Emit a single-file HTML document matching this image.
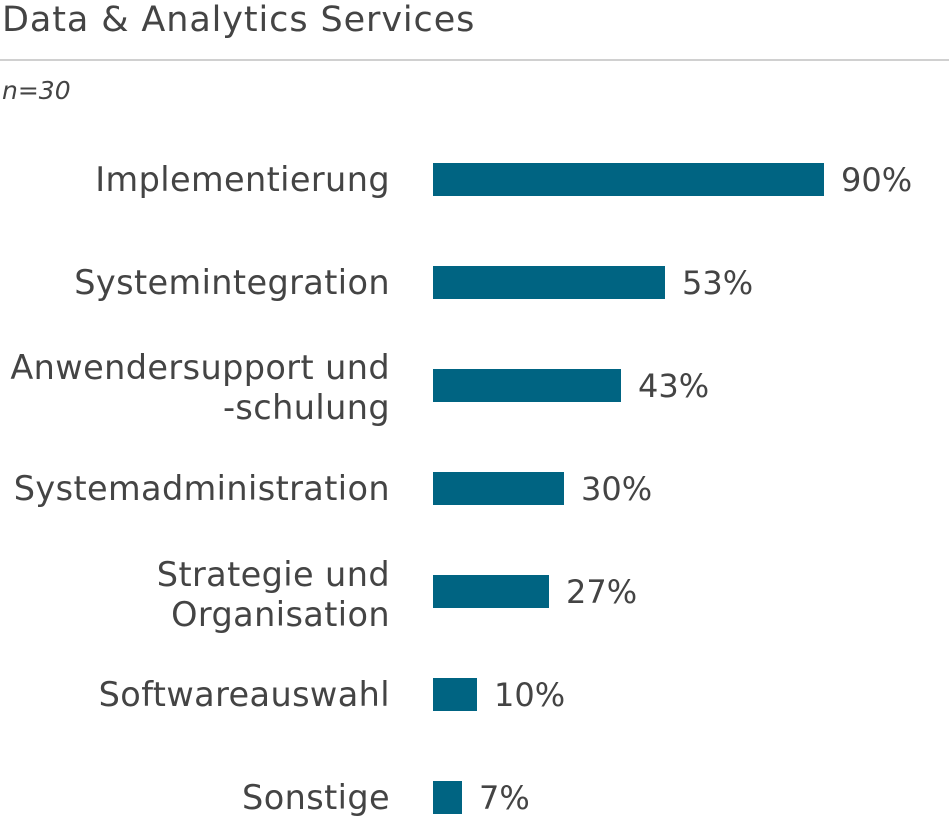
<!DOCTYPE html>
<html><head><meta charset="utf-8"><style>
body{margin:0;width:949px;height:821px;background:#fff;position:relative;overflow:hidden;font-family:"DejaVu Sans",sans-serif;color:#444}
.t{position:absolute;left:2px;top:-1px;font-size:35px;line-height:42px;letter-spacing:0.9px}
.hr{position:absolute;left:0;top:59px;width:949px;height:2px;background:#d0d0d0}
.n{position:absolute;left:2px;top:76px;font-size:25px;font-style:italic}
.l{position:absolute;right:559px;text-align:right;font-size:33.5px;line-height:40px;white-space:nowrap;letter-spacing:0.4px}
.b{position:absolute;left:433px;height:33px;background:#006482}
.v{position:absolute;font-size:32px;line-height:40px}
</style></head><body>
<div class="t">Data &amp; Analytics Services</div>
<div class="hr"></div>
<div class="n">n=30</div>

<div class="l" style="top:160px">Implementierung</div>
<div class="b" style="top:163px;width:391px"></div>
<div class="v" style="left:841px;top:160px">90%</div>

<div class="l" style="top:263px">Systemintegration</div>
<div class="b" style="top:266px;width:232px"></div>
<div class="v" style="left:682px;top:263px">53%</div>

<div class="l" style="top:348px">Anwendersupport und<br>-schulung</div>
<div class="b" style="top:369px;width:188px"></div>
<div class="v" style="left:638px;top:366px">43%</div>

<div class="l" style="top:469px">Systemadministration</div>
<div class="b" style="top:472px;width:131px"></div>
<div class="v" style="left:581px;top:469px">30%</div>

<div class="l" style="top:555px">Strategie und<br>Organisation</div>
<div class="b" style="top:575px;width:116px"></div>
<div class="v" style="left:566px;top:572px">27%</div>

<div class="l" style="top:675px">Softwareauswahl</div>
<div class="b" style="top:678px;width:44px"></div>
<div class="v" style="left:494px;top:675px">10%</div>

<div class="l" style="top:778px">Sonstige</div>
<div class="b" style="top:781px;width:29px"></div>
<div class="v" style="left:479px;top:778px">7%</div>
</body></html>
